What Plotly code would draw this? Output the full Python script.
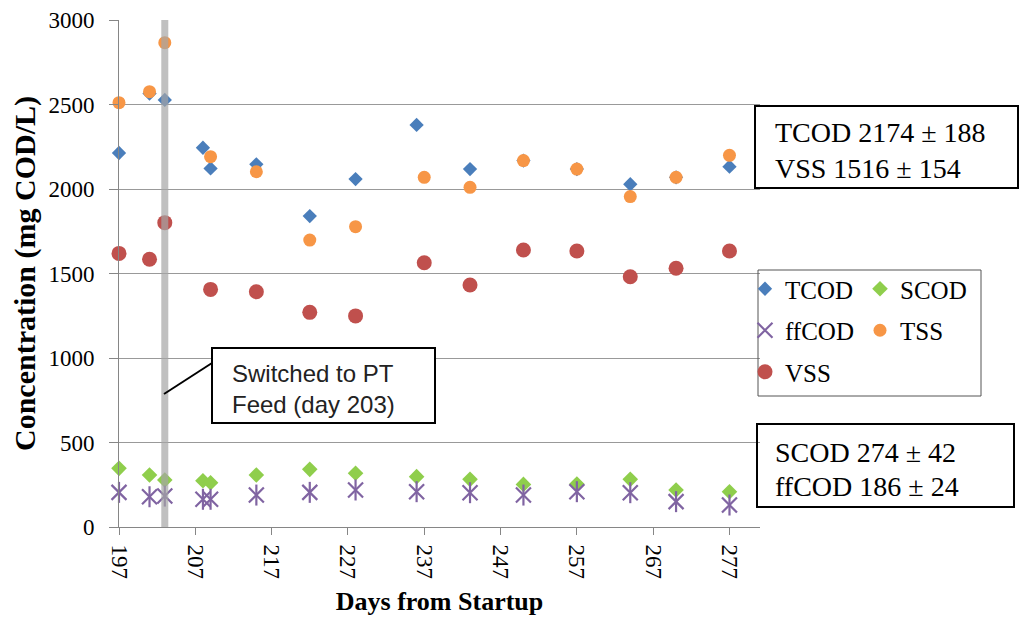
import plotly.graph_objects as go

# ---- data ----
tcod_days = [197, 201, 203, 208, 209, 215, 222, 228, 236, 243, 250, 257, 264, 270, 277]
tcod_vals = [2213, 2565, 2527, 2244, 2122, 2146, 1840, 2059, 2379, 2118, 2168, 2118, 2028, 2069, 2132]

scod_days = [197, 201, 203, 208, 209, 215, 222, 228, 236, 243, 250, 257, 264, 270, 277]
scod_vals = [347, 308, 278, 274, 262, 308, 341, 318, 298, 282, 252, 254, 282, 219, 209]

ffcod_days = [197, 201, 203, 208, 209, 215, 222, 228, 236, 243, 250, 257, 264, 270, 277]
ffcod_vals = [205, 179, 183, 164, 164, 189, 205, 219, 209, 203, 189, 209, 203, 150, 130]

tss_days = [197, 201, 203, 209, 215, 222, 228, 237, 243, 250, 257, 264, 270, 277]
tss_vals = [2511, 2576, 2866, 2191, 2102, 1698, 1777, 2069, 2010, 2168, 2118, 1955, 2069, 2199]

vss_days = [197, 201, 203, 209, 215, 222, 228, 237, 243, 250, 257, 264, 270, 277]
vss_vals = [1619, 1584, 1801, 1406, 1392, 1270, 1249, 1564, 1432, 1639, 1633, 1481, 1531, 1633]

x_ticks = [197, 207, 217, 227, 237, 247, 257, 267, 277]
y_ticks = [0, 500, 1000, 1500, 2000, 2500, 3000]
switch_day = 203

summary_top = ["TCOD 2174 \u00b1 188", "VSS 1516 \u00b1 154"]
summary_bottom = ["SCOD 274 \u00b1 42", "ffCOD 186 \u00b1 24"]
callout_lines = ["Switched to PT", "Feed (day 203)"]

# ---- layout geometry (page pixel coords; the page body has an 8px margin) ----
OFF = 8
W, H = 1013, 608
PL, PR, PT, PB = 119, 760, 20, 527          # plot area in page pixels
ML, MT = PL - OFF, PT - OFF
PW, PH = PR - PL, PB - PT
MR = W - ML - PW
MB = H - MT - PH


def px(x):
    return (x - PL) / PW


def py(y):
    return (PB - y) / PH


SERIF = "Liberation Serif, Times New Roman, serif"
SANS = "Liberation Sans, Arial, sans-serif"
PURPLE = "#8064a2"

fig = go.Figure()

fig.add_trace(go.Scatter(x=tcod_days, y=tcod_vals, mode="markers", name="TCOD",
                         legend="legend", legendgroup="a", cliponaxis=False,
                         marker=dict(symbol="diamond", size=11, color="#4a7ebb")))
fig.add_trace(go.Scatter(x=scod_days, y=scod_vals, mode="markers", name="SCOD",
                         legend="legend2", legendgroup="b", cliponaxis=False,
                         marker=dict(symbol="diamond", size=12, color="#8fce4c")))
fig.add_trace(go.Scatter(x=ffcod_days, y=ffcod_vals, mode="markers", name="ffCOD",
                         legend="legend", legendgroup="c", cliponaxis=False,
                         marker=dict(symbol="x-thin-open", size=15, color=PURPLE,
                                     line=dict(color=PURPLE, width=2.2))))
fig.add_trace(go.Scatter(x=ffcod_days, y=ffcod_vals, mode="markers", name="ffCOD",
                         legend="legend", legendgroup="c", showlegend=False, cliponaxis=False,
                         marker=dict(symbol="line-ns-open", size=15, color=PURPLE,
                                     line=dict(color=PURPLE, width=2.2))))
fig.add_trace(go.Scatter(x=tss_days, y=tss_vals, mode="markers", name="TSS",
                         legend="legend2", legendgroup="d", cliponaxis=False,
                         marker=dict(symbol="circle", size=13, color="#f79646")))
fig.add_trace(go.Scatter(x=vss_days, y=vss_vals, mode="markers", name="VSS",
                         legend="legend", legendgroup="e", cliponaxis=False,
                         marker=dict(symbol="circle", size=15, color="#c0504d")))

shapes = [
    # switch marker bar
    dict(type="line", xref="x", yref="y", x0=switch_day, x1=switch_day, y0=0, y1=3024,
         line=dict(color="rgba(165,165,165,0.7)", width=7), layer="above"),
    # legend frame
    dict(type="rect", xref="paper", yref="paper", x0=px(758), x1=px(981), y0=py(396), y1=py(270),
         line=dict(color="#555555", width=1)),
    # summary boxes
    dict(type="rect", xref="paper", yref="paper", x0=px(755), x1=px(1018), y0=py(188), y1=py(106),
         line=dict(color="black", width=2)),
    dict(type="rect", xref="paper", yref="paper", x0=px(757), x1=px(1014), y0=py(507), y1=py(424),
         line=dict(color="black", width=2)),
    # callout box + leader
    dict(type="rect", xref="paper", yref="paper", x0=px(212), x1=px(435), y0=py(423), y1=py(348),
         line=dict(color="black", width=2), fillcolor="white", layer="above"),
    dict(type="line", xref="paper", yref="paper", x0=px(164), x1=px(212), y0=py(394), y1=py(363),
         line=dict(color="black", width=2)),
]

annotations = []
for txt, yy in zip(summary_top, [132, 168]):
    annotations.append(dict(text=txt, xref="paper", yref="paper", x=px(773), y=py(yy),
                            xanchor="left", yanchor="middle", showarrow=False,
                            font=dict(family=SERIF, size=28, color="black")))
for txt, yy in zip(summary_bottom, [452, 486]):
    annotations.append(dict(text=txt, xref="paper", yref="paper", x=px(773), y=py(yy),
                            xanchor="left", yanchor="middle", showarrow=False,
                            font=dict(family=SERIF, size=28, color="black")))
for txt, yy in zip(callout_lines, [373, 404]):
    annotations.append(dict(text=txt, xref="paper", yref="paper", x=px(230), y=py(yy),
                            xanchor="left", yanchor="middle", showarrow=False,
                            font=dict(family=SANS, size=24, color="#222222")))

legend_common = dict(yanchor="top", xanchor="left", orientation="v",
                     font=dict(family=SERIF, size=25, color="black"),
                     bgcolor="rgba(0,0,0,0)", tracegroupgap=6, itemwidth=30)

fig.update_layout(
    width=W, height=H,
    margin=dict(l=ML, r=MR, t=MT, b=MB, autoexpand=False),
    paper_bgcolor="white", plot_bgcolor="white",
    font=dict(family=SERIF, color="black"),
    shapes=shapes,
    annotations=annotations,
    legend=dict(x=px(745), y=py(266), **legend_common),
    legend2=dict(x=px(860), y=py(266), **legend_common),
    xaxis=dict(range=[197, 281], tickvals=x_ticks, tickangle=90, automargin=False,
               ticks="outside", ticklen=7, tickcolor="#868686",
               showline=True, linecolor="#868686", showgrid=False, zeroline=False,
               tickfont=dict(family=SERIF, size=23, color="black"),
               ticklabelstandoff=5,
               title=dict(text="<b>Days from Startup</b>", standoff=20,
                          font=dict(family=SERIF, size=26, color="black"))),
    yaxis=dict(range=[0, 3000], tickvals=y_ticks, automargin=False,
               ticks="outside", ticklen=9, tickcolor="#868686",
               showline=True, linecolor="#868686", showgrid=True, gridcolor="#999999",
               zeroline=False,
               tickfont=dict(family=SERIF, size=23, color="black"),
               ticklabelstandoff=10,
               title=dict(text="<b>Concentration (mg COD/L)</b>", standoff=8,
                          font=dict(family=SERIF, size=30, color="black"))),
)

fig.write_html("out.html")
